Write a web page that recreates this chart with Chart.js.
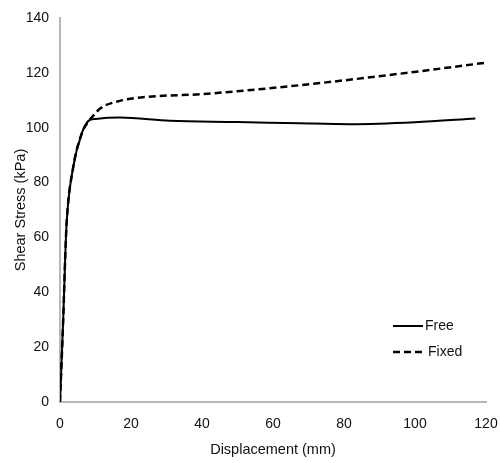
<!DOCTYPE html>
<html>
<head>
<meta charset="utf-8">
<script src="https://cdn.jsdelivr.net/npm/chart.js@4"></script>
<style>
html,body{margin:0;padding:0;background:#fff;}
#wrap{width:500px;height:463px;position:relative;}
</style>
</head>
<body>
<div id="wrap"><canvas id="c" width="500" height="463"></canvas></div>
<script>
// Data
const freeDisp   = [0, 0.9, 1.5, 1.9, 3.7, 6.1, 8, 10, 16.9, 31, 50, 67.6, 81.7, 100, 117];
const freeStress = [0, 30, 54, 66, 85.5, 97.8, 102.5, 103.2, 103.7, 102.5, 102.1, 101.6, 101.3, 102, 103.4];
const fixedDisp   = [0, 0.9, 1.5, 1.9, 3.7, 6.1, 8, 9.4, 11.3, 16.9, 25, 39.4, 67.6, 95.8, 120];
const fixedStress = [0, 30, 54, 66, 85.5, 97.8, 102.3, 104.4, 107, 109.8, 111.3, 112.2, 115.5, 119.7, 123.7];
const seriesNames = ['Free', 'Fixed'];
const xTicks = [0, 20, 40, 60, 80, 100, 120];
const yTicks = [0, 20, 40, 60, 80, 100, 120, 140];

const toPts = (xs, ys) => xs.map((x, i) => ({x: x, y: ys[i]}));
const FONT = 'Liberation Sans, Arial, sans-serif';

const legendPlugin = {
  id: 'customLegend',
  afterDraw(chart) {
    const ctx = chart.ctx;
    ctx.save();
    ctx.font = '14px ' + FONT;
    ctx.fillStyle = '#111';
    ctx.textBaseline = 'middle';
    ctx.strokeStyle = '#000';
    // Free
    ctx.lineWidth = 2;
    ctx.setLineDash([]);
    ctx.beginPath(); ctx.moveTo(393, 326); ctx.lineTo(423, 326); ctx.stroke();
    ctx.fillText(seriesNames[0], 425, 326);
    // Fixed
    ctx.lineWidth = 2.5;
    ctx.setLineDash([7, 4]);
    ctx.beginPath(); ctx.moveTo(393, 352); ctx.lineTo(423, 352); ctx.stroke();
    ctx.setLineDash([]);
    ctx.fillText(seriesNames[1], 428, 352);
    ctx.restore();
  }
};

new Chart(document.getElementById('c'), {
  type: 'line',
  data: {
    datasets: [
      {
        label: seriesNames[0],
        data: toPts(freeDisp, freeStress),
        borderColor: '#000',
        borderWidth: 2,
        pointRadius: 0,
        fill: false,
        cubicInterpolationMode: 'monotone'
      },
      {
        label: seriesNames[1],
        data: toPts(fixedDisp, fixedStress),
        borderColor: '#000',
        borderWidth: 2.5,
        borderDash: [7, 4],
        pointRadius: 0,
        fill: false,
        cubicInterpolationMode: 'monotone'
      }
    ]
  },
  options: {
    responsive: false,
    animation: false,
    layout: {padding: {top: 18, right: 14, left: 0, bottom: 0}},
    plugins: {legend: {display: false}, tooltip: {enabled: false}},
    scales: {
      x: {
        type: 'linear',
        min: 0, max: 120,
        afterBuildTicks: (s) => { s.ticks = xTicks.map(v => ({value: v})); },
        afterFit: (s) => { s.height = 61; s.paddingRight = 0; s.paddingLeft = 0; },
        grid: {display: true, color: 'rgba(0,0,0,0)', drawTicks: false},
        border: {display: true, color: '#b8b8b8', width: 2},
        ticks: {padding: 14, color: '#111', font: {family: FONT, size: 14}, maxRotation: 0},
        title: {display: true, text: 'Displacement (mm)', color: '#111', font: {family: FONT, size: 14.5}, padding: {top: 0, bottom: 4}}
      },
      y: {
        type: 'linear',
        min: 0, max: 140,
        afterBuildTicks: (s) => { s.ticks = yTicks.map(v => ({value: v})); },
        afterFit: (s) => { s.width = 60; s.paddingTop = 0; s.paddingBottom = 0; },
        grid: {display: true, color: 'rgba(0,0,0,0)', drawTicks: false},
        border: {display: true, color: '#b8b8b8', width: 2},
        ticks: {padding: 11, color: '#111', font: {family: FONT, size: 14}},
        title: {display: true, text: 'Shear Stress (kPa)', color: '#111', font: {family: FONT, size: 14.5}, padding: {top: 12, bottom: 0}}
      }
    }
  },
  plugins: [legendPlugin]
});
</script>
</body>
</html>
